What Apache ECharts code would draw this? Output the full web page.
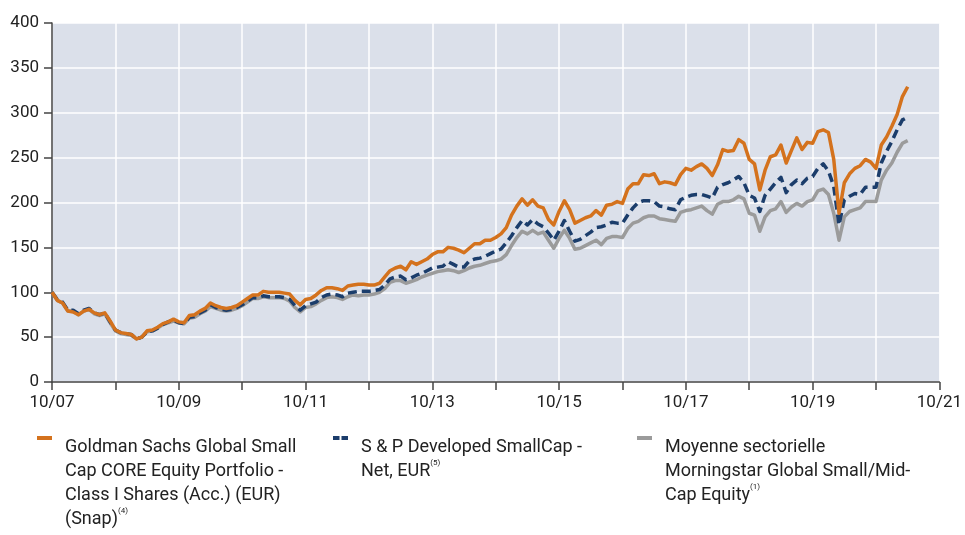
<!DOCTYPE html>
<html>
<head>
<meta charset="utf-8">
<script src="https://cdn.jsdelivr.net/npm/echarts@6/dist/echarts.min.js"></script>
<style>
	html, body { margin: 0; padding: 0; background: #fff; }
	#chart { width: 965px; height: 535px; }
</style>
</head>
<body>
<div id="chart"></div>
<script>
// monthly values, 10/2007 .. 04/2021 (base 100)
var gsFund = [
	100, 91, 88, 79, 78, 75, 79, 81, 77, 75, 77, 68,
	58, 55, 54, 53, 48, 50, 57, 58, 61, 65, 67, 70,
	67, 66, 74, 75, 79, 82, 88, 85, 83, 82, 83, 85,
	89, 93, 97, 97, 101, 100, 100, 100, 99, 98, 91, 86,
	92, 93, 97, 102, 105, 105, 104, 102, 107, 108, 109, 109,
	108, 108, 110, 117, 124, 127, 129, 125, 134, 131, 134, 137,
	142, 145, 145, 150, 149, 147, 144, 149, 154, 154, 158, 158,
	161, 165, 172, 186, 196, 204, 197, 203, 196, 194, 181, 175,
	190, 202, 192, 177, 180, 183, 185, 191, 186, 197, 198, 201,
	199, 215, 221, 221, 231, 230, 232, 221, 223, 222, 220, 231,
	238, 236, 240, 243, 238, 230, 242, 259, 257, 258, 270, 266,
	248, 243, 214, 236, 251, 253, 264, 244, 258, 272, 259, 267,
	266, 279, 281, 278, 248, 188, 222, 232, 238, 241, 248, 245,
	238, 264, 273, 285, 298, 318, 329
];
var spIndex = [
	100, 92, 89, 80, 80, 76, 80, 82, 77, 75, 77, 67,
	58, 55, 54, 53, 48, 50, 56, 57, 60, 64, 67, 69,
	66, 65, 72, 73, 77, 80, 86, 83, 81, 80, 81, 83,
	86, 90, 94, 94, 96, 95, 95, 95, 94, 92, 85, 80,
	85, 87, 89, 94, 97, 98, 97, 95, 99, 100, 101, 101,
	101, 102, 103, 108, 115, 117, 118, 114, 116, 119, 121, 124,
	127, 128, 129, 134, 131, 128, 128, 135, 137, 138, 140, 143,
	146, 148, 155, 163, 172, 180, 175, 181, 176, 173, 166, 158,
	168, 180, 168, 157, 159, 163, 167, 172, 173, 175, 178, 177,
	177, 186, 194, 200, 202, 202, 201, 196, 195, 193, 192, 203,
	206, 208, 209, 209, 207, 205, 217, 220, 222, 225, 229, 222,
	208, 205, 190, 208, 215, 222, 228, 211, 220, 225, 221, 227,
	229, 238, 243, 235, 218, 175, 203, 207, 210, 209, 217, 217,
	217, 244, 257, 268, 281, 292, 295
];
var sectorAvg = [
	100, 91, 88, 79, 79, 75, 79, 81, 76, 74, 76, 66,
	57, 54, 53, 52, 48, 50, 56, 57, 60, 64, 66, 68,
	66, 65, 71, 72, 76, 79, 84, 82, 80, 79, 80, 82,
	85, 89, 93, 93, 95, 94, 94, 94, 93, 90, 83, 78,
	83, 84, 87, 91, 94, 95, 94, 92, 95, 97, 96, 97,
	97, 98, 100, 104, 111, 113, 113, 110, 112, 114, 117, 119,
	121, 123, 124, 125, 124, 122, 124, 127, 129, 130, 132, 134,
	135, 137, 142, 152, 161, 168, 165, 169, 165, 167, 158, 149,
	160, 169, 160, 148, 149, 152, 155, 158, 153, 160, 162, 162,
	161, 171, 177, 179, 183, 185, 185, 182, 181, 180, 179, 189,
	191, 192, 194, 196, 191, 187, 198, 201, 201, 203, 207, 204,
	188, 186, 168, 184, 191, 193, 201, 189, 195, 199, 196, 201,
	203, 213, 215, 209, 188, 158, 184, 190, 192, 194, 201, 201,
	201, 225, 236, 244, 256, 266, 269
];

var seriesNames = [
	"Goldman Sachs Global Small Cap CORE Equity Portfolio - Class I Shares (Acc.) (EUR) (Snap)",
	"S & P Developed SmallCap - Net, EUR",
	"Moyenne sectorielle Morningstar Global Small/Mid-Cap Equity"
];
var legendLines = [
	[ "Goldman Sachs Global Small", "Cap CORE Equity Portfolio -", "Class I Shares (Acc.) (EUR)", "(Snap){sup|(4)}" ],
	[ "S & P Developed SmallCap -", "Net, EUR{sup|(5)}" ],
	[ "Moyenne sectorielle", "Morningstar Global Small/Mid-", "Cap Equity{sup|(1)}" ]
];
var colors = [ "#d4721d", "#1b3d6b", "#9b9b9b" ];

var FONT = "Roboto, 'Liberation Sans', sans-serif";

var toPoints = function( arr ){
	var out = [];
	for( var i = 0; i < arr.length; ++i ) out.push( [ i, arr[ i ] ] );
	return out;
};

// legend text is centred on its icon, so pad with blank lines above
// to keep the icon level with the first line
var legendText = function( idx ){
	var lines = legendLines[ idx ];
	var pad = [];
	for( var i = 1; i < lines.length; ++i ) pad.push( " " );
	return pad.concat( lines ).join( "\n" );
};

var myChart = echarts.init( document.getElementById( "chart" ) );

var legendItem = function( idx, left, icon ){
	var n = legendLines[ idx ].length;
	return {
		data : [ { name : seriesNames[ idx ], icon : icon } ],
		left : left,
		top : 438 - ( n - 1 ) * 24 - 21,
		orient : "vertical",
		itemWidth : 15,
		itemHeight : 4,
		itemGap : 0,
		padding : 0,
		selectedMode : false,
		formatter : function(){ return legendText( idx ); },
		textStyle : {
			fontFamily : FONT,
			fontSize : 18,
			color : "#222",
			lineHeight : 24,
			padding : [ 18, 0, 0, 8 ],
			rich : {
				sup : { fontSize : 8, verticalAlign : "top", lineHeight : 24, fontFamily : FONT, color : "#222" }
			}
		}
	};
};

var lineSeries = function( idx, data, dashed ){
	return {
		name : seriesNames[ idx ],
		type : "line",
		data : toPoints( data ),
		showSymbol : false,
		symbol : "none",
		silent : true,
		animation : false,
		lineStyle : {
			color : colors[ idx ],
			width : 3.5,
			type : dashed ? [ 9, 5 ] : "solid",
			join : "round"
		},
		itemStyle : { color : colors[ idx ] }
	};
};

var option = {
	animation : false,
	color : colors,
	grid : {
		left : 52,
		right : 20,
		top : 23,
		bottom : 153,
		show : true,
		backgroundColor : "#dbe0ea",
		borderWidth : 0
	},
	legend : [
		legendItem( 0, 37, "rect" ),
		legendItem( 1, 333, "path://M0,0h6.5v4h-6.5z M8.5,0h6.5v4h-6.5z" ),
		legendItem( 2, 637, "rect" )
	],
	xAxis : {
		type : "value",
		min : 0,
		max : 168,
		interval : 12,
		axisLine : { show : true, onZero : false, lineStyle : { color : "#444", width : 1.5 } },
		axisTick : { show : true, length : 8, lineStyle : { color : "#444", width : 1.5 } },
		splitLine : { show : true, lineStyle : { color : "#ffffff", width : 1.5 } },
		axisLabel : {
			fontFamily : FONT,
			fontSize : 17,
			color : "#222",
			margin : 12,
			showMaxLabel : true,
			formatter : function( v ){
				if( v % 24 !== 0 ) return "";
				var yr = ( 7 + v / 12 ) % 100;
				return "10/" + ( yr < 10 ? "0" + yr : yr );
			}
		}
	},
	yAxis : {
		type : "value",
		min : 0,
		max : 400,
		interval : 50,
		axisLine : { show : true, lineStyle : { color : "#444", width : 1.5 } },
		axisTick : { show : true, length : 8, lineStyle : { color : "#444", width : 1.5 } },
		splitLine : { show : true, lineStyle : { color : "#ffffff", width : 1.5 } },
		axisLabel : {
			fontFamily : FONT,
			fontSize : 17,
			color : "#222",
			margin : 13
		}
	},
	series : [
		lineSeries( 2, sectorAvg, false ),
		lineSeries( 1, spIndex, true ),
		lineSeries( 0, gsFund, false )
	]
};

myChart.setOption( option, true );
window.addEventListener( "resize", function(){ myChart.resize(); } );
</script>
</body>
</html>
